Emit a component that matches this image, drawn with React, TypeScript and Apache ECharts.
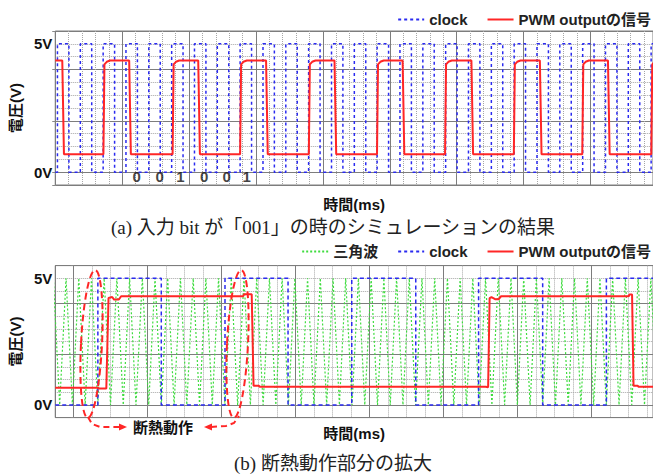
import React, { useEffect, useRef } from 'react';
import * as echarts from 'echarts';

const FONT = "'Liberation Sans', Arial, 'Noto Sans CJK JP', sans-serif";
const SERIF = "'Liberation Serif', 'Times New Roman', 'Noto Sans CJK JP', serif";
const BLUE = '#2a2af0';
const RED = '#ff2626';
const GREEN = '#3fdc3f';

// ---------- panel (a): 入力 bit が「001」 ----------
const xMaxA = 8.934;
// clock edges (rise, fall, rise, ...) in divisions, starts low
const clockEdgesA = [
  0.033, 0.204, 0.375, 0.545, 0.716, 0.887, 1.057, 1.228, 1.398, 1.569,
  1.74, 1.91, 2.081, 2.252, 2.422, 2.593, 2.763, 2.934, 3.105, 3.275,
  3.446, 3.617, 3.787, 3.958, 4.129, 4.299, 4.47, 4.641, 4.811, 4.982,
  5.152, 5.323, 5.494, 5.664, 5.835, 6.006, 6.176, 6.347, 6.518, 6.688,
  6.859, 7.029, 7.2, 7.371, 7.541, 7.712, 7.883, 8.053, 8.224, 8.395,
  8.565, 8.736, 8.906,
];
const pwmRiseA = [0.72, 1.754, 2.763, 3.79, 4.809, 5.826, 6.854, 7.877, 8.908];
const pwmFallA = [0.105, 1.105, 2.137, 3.151, 4.174, 5.192, 6.22, 7.243, 8.261];
const pwmHighA = 4.35;
// rise / fall shapes: [time offset, volts]
const pwmRiseShapeA = [[0, 0.7], [0.015, 4.2], [0.05, 4.3], [0.1, 4.35]];
const pwmFallShapeA = [[0, 4.35], [0.025, 0.7]];
const bitLabelsA = ['0', '0', '1', '0', '0', '1'];
const bitTimesA = [1.218, 1.561, 1.87, 2.226, 2.562, 2.86];
const bitLevelA = -0.155;

// ---------- panel (b): 断熱動作部分の拡大 ----------
const xMinB = -0.25;
const xMaxB = 7.828;
const clockEdgesB = [0.326, 1.183, 2.044, 2.896, 3.757, 4.622, 5.471, 6.337, 7.198];
const pwmB = [
  [-0.25, 0.68], [0.33, 0.68], [0.33, 0.65], [0.44, 0.65], [0.47, 4.22], [0.52, 4.26],
  [0.545, 4.16], [0.61, 4.16], [0.64, 4.29], [2.29, 4.29], [2.3, 4.37], [2.405, 4.37],
  [2.43, 0.76], [2.5, 0.76], [2.51, 0.72], [5.567, 0.72], [5.6, 0.7], [5.62, 4.22],
  [5.645, 4.26], [5.7, 4.17], [5.74, 4.17], [5.775, 4.29], [7.5, 4.29], [7.51, 4.36],
  [7.545, 4.36], [7.565, 0.76], [7.62, 0.76], [7.63, 0.72], [7.83, 0.72],
];
// vertex times of the triangle wave; levels alternate peak / trough
const triangleTimesB = [
  -0.276, -0.19, -0.104, -0.018, 0.068, 0.154, 0.24, 0.325, 0.411, 0.497,
  0.583, 0.669, 0.755, 0.841, 0.927, 1.013, 1.098, 1.184, 1.27, 1.356,
  1.442, 1.528, 1.614, 1.7, 1.786, 1.872, 1.957, 2.043, 2.129, 2.215,
  2.301, 2.387, 2.473, 2.559, 2.645, 2.731, 2.816, 2.902, 2.988, 3.074,
  3.16, 3.246, 3.332, 3.418, 3.504, 3.59, 3.675, 3.761, 3.847, 3.933,
  4.019, 4.105, 4.191, 4.277, 4.363, 4.449, 4.534, 4.62, 4.706, 4.792,
  4.878, 4.964, 5.05, 5.136, 5.222, 5.308, 5.393, 5.479, 5.565, 5.651,
  5.737, 5.823, 5.909, 5.995, 6.081, 6.167, 6.252, 6.338, 6.424, 6.51,
  6.596, 6.682, 6.768, 6.854, 6.94, 7.026, 7.111, 7.197, 7.283, 7.369,
  7.455, 7.541, 7.627, 7.713, 7.799, 7.885,
];
const triangleLevelsB = [5, 0];

const yMin = -0.5;
const yMax = 5.5;

function stepWave(edges: number[], x0: number, x1: number, low: number, high: number) {
  const pts: number[][] = [[x0, low]];
  let level = low;
  for (const e of edges) {
    pts.push([e, level]);
    level = level === low ? high : low;
    pts.push([e, level]);
  }
  pts.push([x1, level]);
  return pts;
}

function pwmWaveA() {
  const events = [
    ...pwmRiseA.map((t) => ({ t, shape: pwmRiseShapeA })),
    ...pwmFallA.map((t) => ({ t, shape: pwmFallShapeA })),
  ].sort((a, b) => a.t - b.t);
  const pts: number[][] = [[0, pwmHighA]];
  let last = pwmHighA;
  for (const ev of events) {
    for (const [dt, v] of ev.shape) pts.push([ev.t + dt, v]);
    last = ev.shape[ev.shape.length - 1][1];
  }
  pts.push([xMaxA + 0.3, last]);
  return pts;
}

const axisText = { fontFamily: FONT, fontSize: 15, fontWeight: 'bold' as const, color: '#111' };

function xAxisCommon(gap: number) {
  return {
    type: 'value' as const,
    axisLabel: { show: false },
    axisLine: { show: false },
    axisTick: { show: true, length: 3, lineStyle: { color: '#888' } },
    splitLine: { show: true, lineStyle: { color: '#7d7d7d', width: 1 } },
    minorSplitLine: { show: true, lineStyle: { color: '#a6a6a6', type: 'dotted' as const, width: 1 } },
    name: '時間(ms)',
    nameLocation: 'middle' as const,
    nameGap: gap,
    nameTextStyle: axisText,
  };
}

function yAxesFor(grid: number) {
  return [
    {
      gridIndex: grid,
      type: 'value' as const,
      min: yMin,
      max: yMax,
      minInterval: 2,
      maxInterval: 2,
      splitNumber: 3,
      axisLabel: { show: false },
      axisLine: { show: false },
      axisTick: { show: true, length: 3, lineStyle: { color: '#888' } },
      splitLine: { show: true, lineStyle: { color: '#7d7d7d', width: 1 } },
      minorTick: { show: false, splitNumber: 4 },
      minorSplitLine: { show: true, lineStyle: { color: '#a6a6a6', type: 'dotted' as const, width: 1 } },
    },
    {
      gridIndex: grid,
      type: 'value' as const,
      position: 'left' as const,
      min: yMin,
      max: yMax,
      minInterval: 5,
      maxInterval: 5,
      splitNumber: 1,
      splitLine: { show: false },
      axisLine: { show: false },
      axisTick: { show: false },
      axisLabel: {
        margin: 3,
        ...axisText,
        formatter: (v: number) => (v === 0 ? '0V' : v === 5 ? '5V' : ''),
      },
      name: '電圧(V)',
      nameLocation: 'middle' as const,
      nameRotate: 90,
      nameGap: 4,
      nameTextStyle: axisText,
    },
  ];
}

const legendCommon = {
  right: 2,
  itemWidth: 26,
  itemHeight: 14,
  itemGap: 19,
  padding: 0,
  itemStyle: { opacity: 0 },
  textStyle: { fontFamily: FONT, fontSize: 15, fontWeight: 'bold' as const, color: '#222' },
};

const dashRed = { stroke: RED, lineWidth: 2, lineDash: [7, 4], fill: 'none' };

export default function App() {
  const ref = useRef<HTMLDivElement>(null);
  useEffect(() => {
    if (!ref.current) return;
    const chart = echarts.init(ref.current, undefined, { renderer: 'svg' });
    const option: any = {
      animation: false,
      backgroundColor: '#fff',
      grid: [
        { left: 33, right: 0, top: 31, height: 154, show: true, borderColor: '#808080', borderWidth: 1, backgroundColor: '#fff' },
        { left: 34, right: 0, top: 265.6, height: 152, show: true, borderColor: '#808080', borderWidth: 1, backgroundColor: '#fff' },
      ],
      xAxis: [
        { ...xAxisCommon(12), gridIndex: 0, min: 0, max: xMaxA, interval: 1, minorTick: { show: false, splitNumber: 5 } },
        { ...xAxisCommon(8), gridIndex: 1, min: xMinB, max: xMaxB, minInterval: 1, maxInterval: 1, splitNumber: 8, minorTick: { show: false, splitNumber: 4 } },
      ],
      yAxis: [...yAxesFor(0), ...yAxesFor(1)],
      legend: [
        { ...legendCommon, top: 12, data: ['clock', 'PWM outputの信号'] },
        { ...legendCommon, top: 244, data: ['三角波', 'clock', 'PWM outputの信号'] },
      ],
      series: [
        {
          name: 'clock', type: 'line', xAxisIndex: 0, yAxisIndex: 0, symbol: 'none', z: 3,
          data: stepWave(clockEdgesA, 0, xMaxA, 0, 5),
          lineStyle: { color: BLUE, width: 1.5, type: [3, 3] }, itemStyle: { color: BLUE },
        },
        {
          name: 'PWM outputの信号', type: 'line', xAxisIndex: 0, yAxisIndex: 0, symbol: 'none', z: 4,
          data: pwmWaveA(),
          lineStyle: { color: RED, width: 2 }, itemStyle: { color: RED },
        },
        {
          name: 'bits', type: 'scatter', xAxisIndex: 0, yAxisIndex: 0, symbolSize: 1, z: 5,
          itemStyle: { color: 'transparent' },
          data: bitTimesA.map((t) => [t, bitLevelA]),
          label: {
            show: true, position: 'inside', fontFamily: FONT, fontSize: 15, fontWeight: 'bold', color: '#111',
            formatter: (p: any) => bitLabelsA[p.dataIndex],
          },
        },
        {
          name: '三角波', type: 'line', xAxisIndex: 1, yAxisIndex: 2, symbol: 'none', z: 2,
          data: triangleTimesB.map((t, i) => [t, triangleLevelsB[i % 2]]),
          lineStyle: { color: GREEN, width: 1.2, type: [2, 2] }, itemStyle: { color: GREEN },
        },
        {
          name: 'clock', type: 'line', xAxisIndex: 1, yAxisIndex: 2, symbol: 'none', z: 3,
          data: stepWave(clockEdgesB, xMinB, xMaxB, 0, 5),
          lineStyle: { color: BLUE, width: 1.5, type: [4, 3] }, itemStyle: { color: BLUE },
        },
        {
          name: 'PWM outputの信号', type: 'line', xAxisIndex: 1, yAxisIndex: 2, symbol: 'none', z: 4,
          data: pwmB,
          lineStyle: { color: RED, width: 2 }, itemStyle: { color: RED },
        },
      ],
      graphic: [
        { type: 'ellipse', x: 91.5, y: 344, rotation: -0.05, z: 100, shape: { cx: 0, cy: 0, rx: 10.5, ry: 74 }, style: dashRed },
        { type: 'ellipse', x: 237.5, y: 344, rotation: -0.05, z: 100, shape: { cx: 0, cy: 0, rx: 10.5, ry: 74 }, style: dashRed },
        { type: 'polyline', z: 100, shape: { points: [[88, 417], [92, 424], [100, 427], [120, 427]] }, style: { ...dashRed, lineDash: [6, 4] } },
        { type: 'polygon', z: 100, shape: { points: [[119, 423.5], [127, 427], [119, 430.5]] }, style: { fill: RED } },
        { type: 'polyline', z: 100, shape: { points: [[211, 427], [226, 426], [234, 423], [239, 416]] }, style: { ...dashRed, lineDash: [6, 4] } },
        { type: 'polygon', z: 100, shape: { points: [[212, 423.5], [204, 427], [212, 430.5]] }, style: { fill: RED } },
        {
          type: 'text', x: 163, y: 427, z: 100,
          style: { text: '断熱動作', font: `bold 15px ${FONT}`, fill: '#111', textAlign: 'center', textVerticalAlign: 'middle', align: 'center', verticalAlign: 'middle' },
        },
        {
          type: 'text', x: 333, y: 227, z: 100,
          style: { text: '(a) 入力 bit が「001」の時のシミュレーションの結果', font: `19px ${SERIF}`, fill: '#222', textAlign: 'center', textVerticalAlign: 'middle', align: 'center', verticalAlign: 'middle' },
        },
        {
          type: 'text', x: 333, y: 463, z: 100,
          style: { text: '(b) 断熱動作部分の拡大', font: `19px ${SERIF}`, fill: '#222', textAlign: 'center', textVerticalAlign: 'middle', align: 'center', verticalAlign: 'middle' },
        },
      ],
    };
    chart.setOption(option);
    return () => chart.dispose();
  }, []);
  return (
    <div
      ref={ref}
      style={{ position: 'fixed', left: 0, top: 0, width: 653, height: 475, background: '#fff' }}
    />
  );
}
